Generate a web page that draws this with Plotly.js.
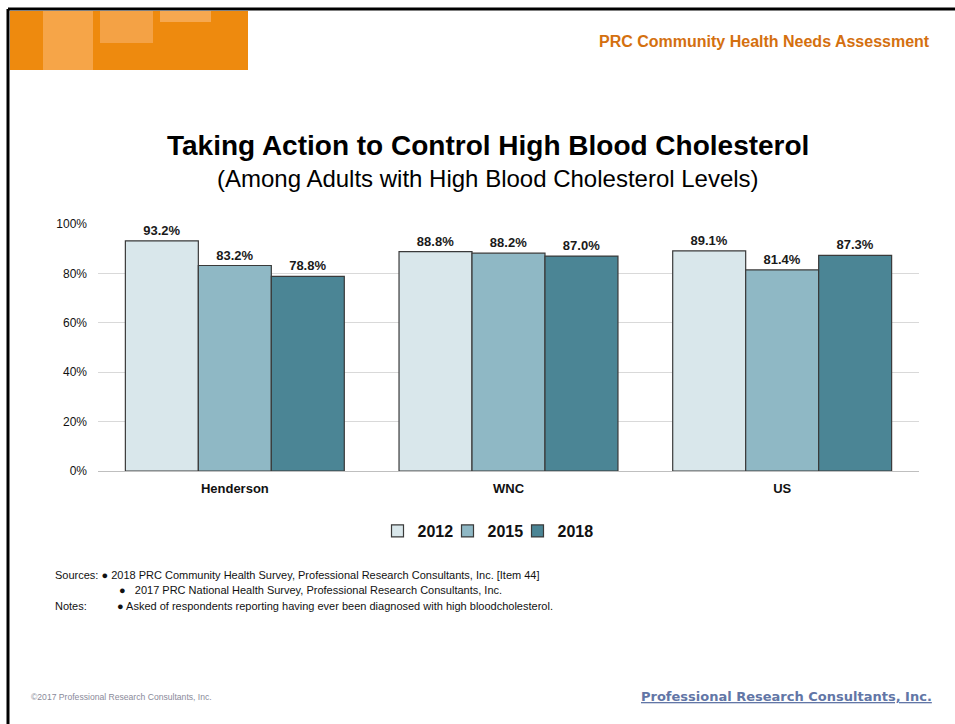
<!DOCTYPE html>
<html><head><meta charset="utf-8">
<script src="https://cdn.plot.ly/plotly-3.0.1.min.js"></script>
<style>html,body{margin:0;padding:0;background:#fff;}#chart{width:955px;height:724px;}</style>
</head><body><div id="chart"></div>
<script>
const categories = ["Henderson", "WNC", "US"];
const years = ["2012", "2015", "2018"];
const values2012 = [93.2, 88.8, 89.1];
const values2015 = [83.2, 88.2, 81.4];
const values2018 = [78.8, 87.0, 87.3];
const yTickVals = [0, 20, 40, 60, 80, 100];
const yTickText = ["0%", "20%", "40%", "60%", "80%", "100%"];

const colors = ["#d9e7eb", "#8fb8c5", "#4b8595"];
const series = [values2012, values2015, values2018];
const W = 955, H = 724;
const px = x => x / W;
const py = y => 1 - y / H;

const traces = series.map((vals, i) => ({
  type: "bar",
  name: years[i],
  x: categories,
  y: vals,
  text: vals.map(v => v.toFixed(1) + "%"),
  textposition: "outside",
  cliponaxis: false,
  textfont: {family: "Liberation Sans, Arial, sans-serif", size: 13, color: "#1a1a1a", weight: "bold"},
  marker: {color: colors[i], line: {color: "#3a3a3a", width: 1.2}},
  legendwidth: i === series.length - 1 ? 40 : 25,
  hoverinfo: "skip"
}));

const shapes = [
  {type:"rect", xref:"paper", yref:"paper", x0:px(10), x1:px(248), y0:py(70), y1:py(11), fillcolor:"#ee8a0e", line:{width:0}},
  {type:"rect", xref:"paper", yref:"paper", x0:px(43), x1:px(93), y0:py(70), y1:py(11), fillcolor:"#f6a548", line:{width:0}},
  {type:"rect", xref:"paper", yref:"paper", x0:px(100), x1:px(153), y0:py(43), y1:py(11), fillcolor:"#f4a245", line:{width:0}},
  {type:"rect", xref:"paper", yref:"paper", x0:px(160), x1:px(211), y0:py(22), y1:py(11), fillcolor:"#f6a850", line:{width:0}},
  {type:"line", xref:"paper", yref:"paper", x0:px(8), x1:px(955), y0:py(9), y1:py(9), line:{color:"#000", width:3}},
  {type:"line", xref:"paper", yref:"paper", x0:px(8), x1:px(8), y0:py(9), y1:0, line:{color:"#000", width:3}}
];

const noteFont = {family: "Liberation Sans Narrow, Arial Narrow, Liberation Sans, sans-serif", size: 11, color: "#111"};
const annotations = [
  {text:"PRC Community Health Needs Assessment", x:px(932), y:py(41), xref:"paper", yref:"paper", xanchor:"right", yanchor:"middle", showarrow:false,
   font:{family:"Liberation Sans, Arial, sans-serif", size:16, color:"#d4700f", weight:"bold"}},
  {text:"Taking Action to Control High Blood Cholesterol", x:px(488), y:py(145), xref:"paper", yref:"paper", xanchor:"center", yanchor:"middle", showarrow:false,
   font:{family:"Liberation Sans, Arial, sans-serif", size:28, color:"#000", weight:"bold"}},
  {text:"(Among Adults with High Blood Cholesterol Levels)", x:px(488), y:py(178), xref:"paper", yref:"paper", xanchor:"center", yanchor:"middle", showarrow:false,
   font:{family:"Liberation Sans, Arial, sans-serif", size:24, color:"#000"}},
  {text:"Sources: \u25CF 2018 PRC Community Health Survey, Professional Research Consultants, Inc. [Item 44]", x:px(53), y:py(575), xref:"paper", yref:"paper", xanchor:"left", yanchor:"middle", showarrow:false, font:noteFont},
  {text:"\u25CF   2017 PRC National Health Survey, Professional Research Consultants, Inc.", x:px(117), y:py(590), xref:"paper", yref:"paper", xanchor:"left", yanchor:"middle", showarrow:false, font:noteFont},
  {text:"Notes:", x:px(53), y:py(606), xref:"paper", yref:"paper", xanchor:"left", yanchor:"middle", showarrow:false, font:noteFont},
  {text:"\u25CF Asked of respondents reporting having ever been diagnosed with high bloodcholesterol.", x:px(115), y:py(606), xref:"paper", yref:"paper", xanchor:"left", yanchor:"middle", showarrow:false, font:noteFont},
  {text:"\u00A92017 Professional Research Consultants, Inc.", x:px(29), y:py(697), xref:"paper", yref:"paper", xanchor:"left", yanchor:"middle", showarrow:false,
   font:{family:"Liberation Sans, Arial, sans-serif", size:8.6, color:"#8a8a9a"}},
  {text:"<u>Professional Research Consultants, Inc.</u>", x:px(934), y:py(696), xref:"paper", yref:"paper", xanchor:"right", yanchor:"middle", showarrow:false,
   font:{family:"DejaVu Sans, sans-serif", size:13, color:"#6276a6", weight:"bold"}}
];

const layout = {
  width: W, height: H,
  margin: {l:0, r:0, t:0, b:0},
  paper_bgcolor: "#fff", plot_bgcolor: "#fff",
  barmode: "group",
  bargap: 0.2, bargroupgap: 0,
  showlegend: true,
  legend: {orientation:"h", x:px(490), xanchor:"center", y:py(531), yanchor:"middle",
    font:{family:"Liberation Sans, Arial, sans-serif", size:16, color:"#111", weight:"bold"},
    itemwidth:30, entrywidth:25, entrywidthmode:"pixels", tracegroupgap:0},
  xaxis: {domain:[px(98), px(919)], range:[-0.5, 2.5], showgrid:false, zeroline:false,
    showline:false, ticks:"", tickfont:{family:"Liberation Sans, Arial, sans-serif", size:13, color:"#111", weight:"bold"}, ticklabelstandoff:8},
  yaxis: {domain:[py(471), py(224)], range:[0, 100], tickvals:yTickVals, ticktext:yTickText,
    showgrid:true, gridcolor:"#d9d9d9", gridwidth:1, zeroline:true, zerolinecolor:"#bfbfbf", zerolinewidth:1,
    ticks:"", showline:false, tickfont:{family:"Liberation Sans, Arial, sans-serif", size:12, color:"#111"}, ticklabelstandoff:10},
  shapes: shapes,
  annotations: annotations,
  font: {family:"Liberation Sans, Arial, sans-serif"}
};

Plotly.newPlot("chart", traces, layout, {displayModeBar:false, staticPlot:true});
</script>
</body></html>
